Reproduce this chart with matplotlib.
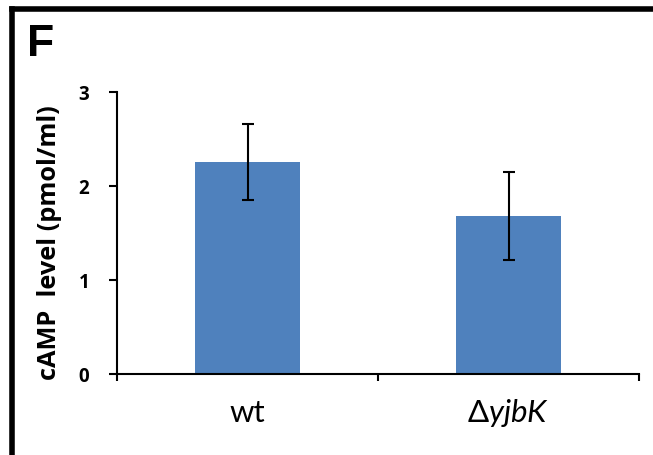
import matplotlib
matplotlib.use("Agg")
import matplotlib.pyplot as plt

categories = ["wt", r"Δ$\it{yjbK}$"]
values = [2.25, 1.68]
errors = [0.405, 0.465]
yticks = [0, 1, 2, 3]

plt.rcParams['font.family'] = ['Lato', 'DejaVu Sans']
plt.rcParams['mathtext.fontset'] = 'custom'
plt.rcParams['mathtext.it'] = 'Lato:italic'
plt.rcParams['mathtext.rm'] = 'Lato'

fig = plt.figure(figsize=(6.53, 4.56), dpi=100)
ax = fig.add_axes([117/653, 1-375/456, (639-117)/653, (375-92.5)/456])

x = list(range(len(categories)))
ax.bar(x, values, width=0.4, color="#4F81BD", zorder=2)
ax.errorbar(x, values, yerr=errors, fmt="none", ecolor="black",
            elinewidth=1.5, capsize=4, capthick=1.5, zorder=3)

ax.set_xlim(-0.5, 1.5)
ax.set_ylim(0, 3)
ax.set_yticks(yticks)
ax.set_yticklabels([str(t) for t in yticks], fontsize=13.5, fontweight="bold",
                   family=['Open Sans', 'DejaVu Sans'])
ax.tick_params(axis="y", direction="out", length=6, width=1.5, pad=14)

ax.set_xticks([-0.5, 0.5, 1.5])
ax.set_xticklabels([])
ax.tick_params(axis="x", which="major", direction="out", length=5, width=1.5)
for xi, lab in zip(x, categories):
    ax.text(xi, -0.40, lab, ha="center", va="center", fontsize=22.5,
            clip_on=False, family=['Lato', 'DejaVu Sans'])

for s in ["top", "right"]:
    ax.spines[s].set_visible(False)
for s in ["left", "bottom"]:
    ax.spines[s].set_linewidth(1.5)
    ax.spines[s].set_color("black")

ax.set_ylabel("cAMP  level (pmol/ml)", fontsize=18.3, fontweight="bold",
              family=['Open Sans', 'DejaVu Sans'])
ax.yaxis.set_label_coords(-0.105, 0.469)

# panel letter
fig.text(27/653, 1-44/456, "F", fontsize=32, fontweight="bold",
         family="Liberation Sans", ha="left", va="center")

# frame (top and left lines)
fig.add_artist(plt.Line2D([12/653, 12/653], [0, 1-9.5/456], color="black",
                          linewidth=4, transform=fig.transFigure,
                          solid_capstyle="projecting"))
fig.add_artist(plt.Line2D([12/653, 1], [1-9.5/456, 1-9.5/456], color="black",
                          linewidth=4, transform=fig.transFigure,
                          solid_capstyle="projecting"))

fig.savefig("out.png", dpi=100)
